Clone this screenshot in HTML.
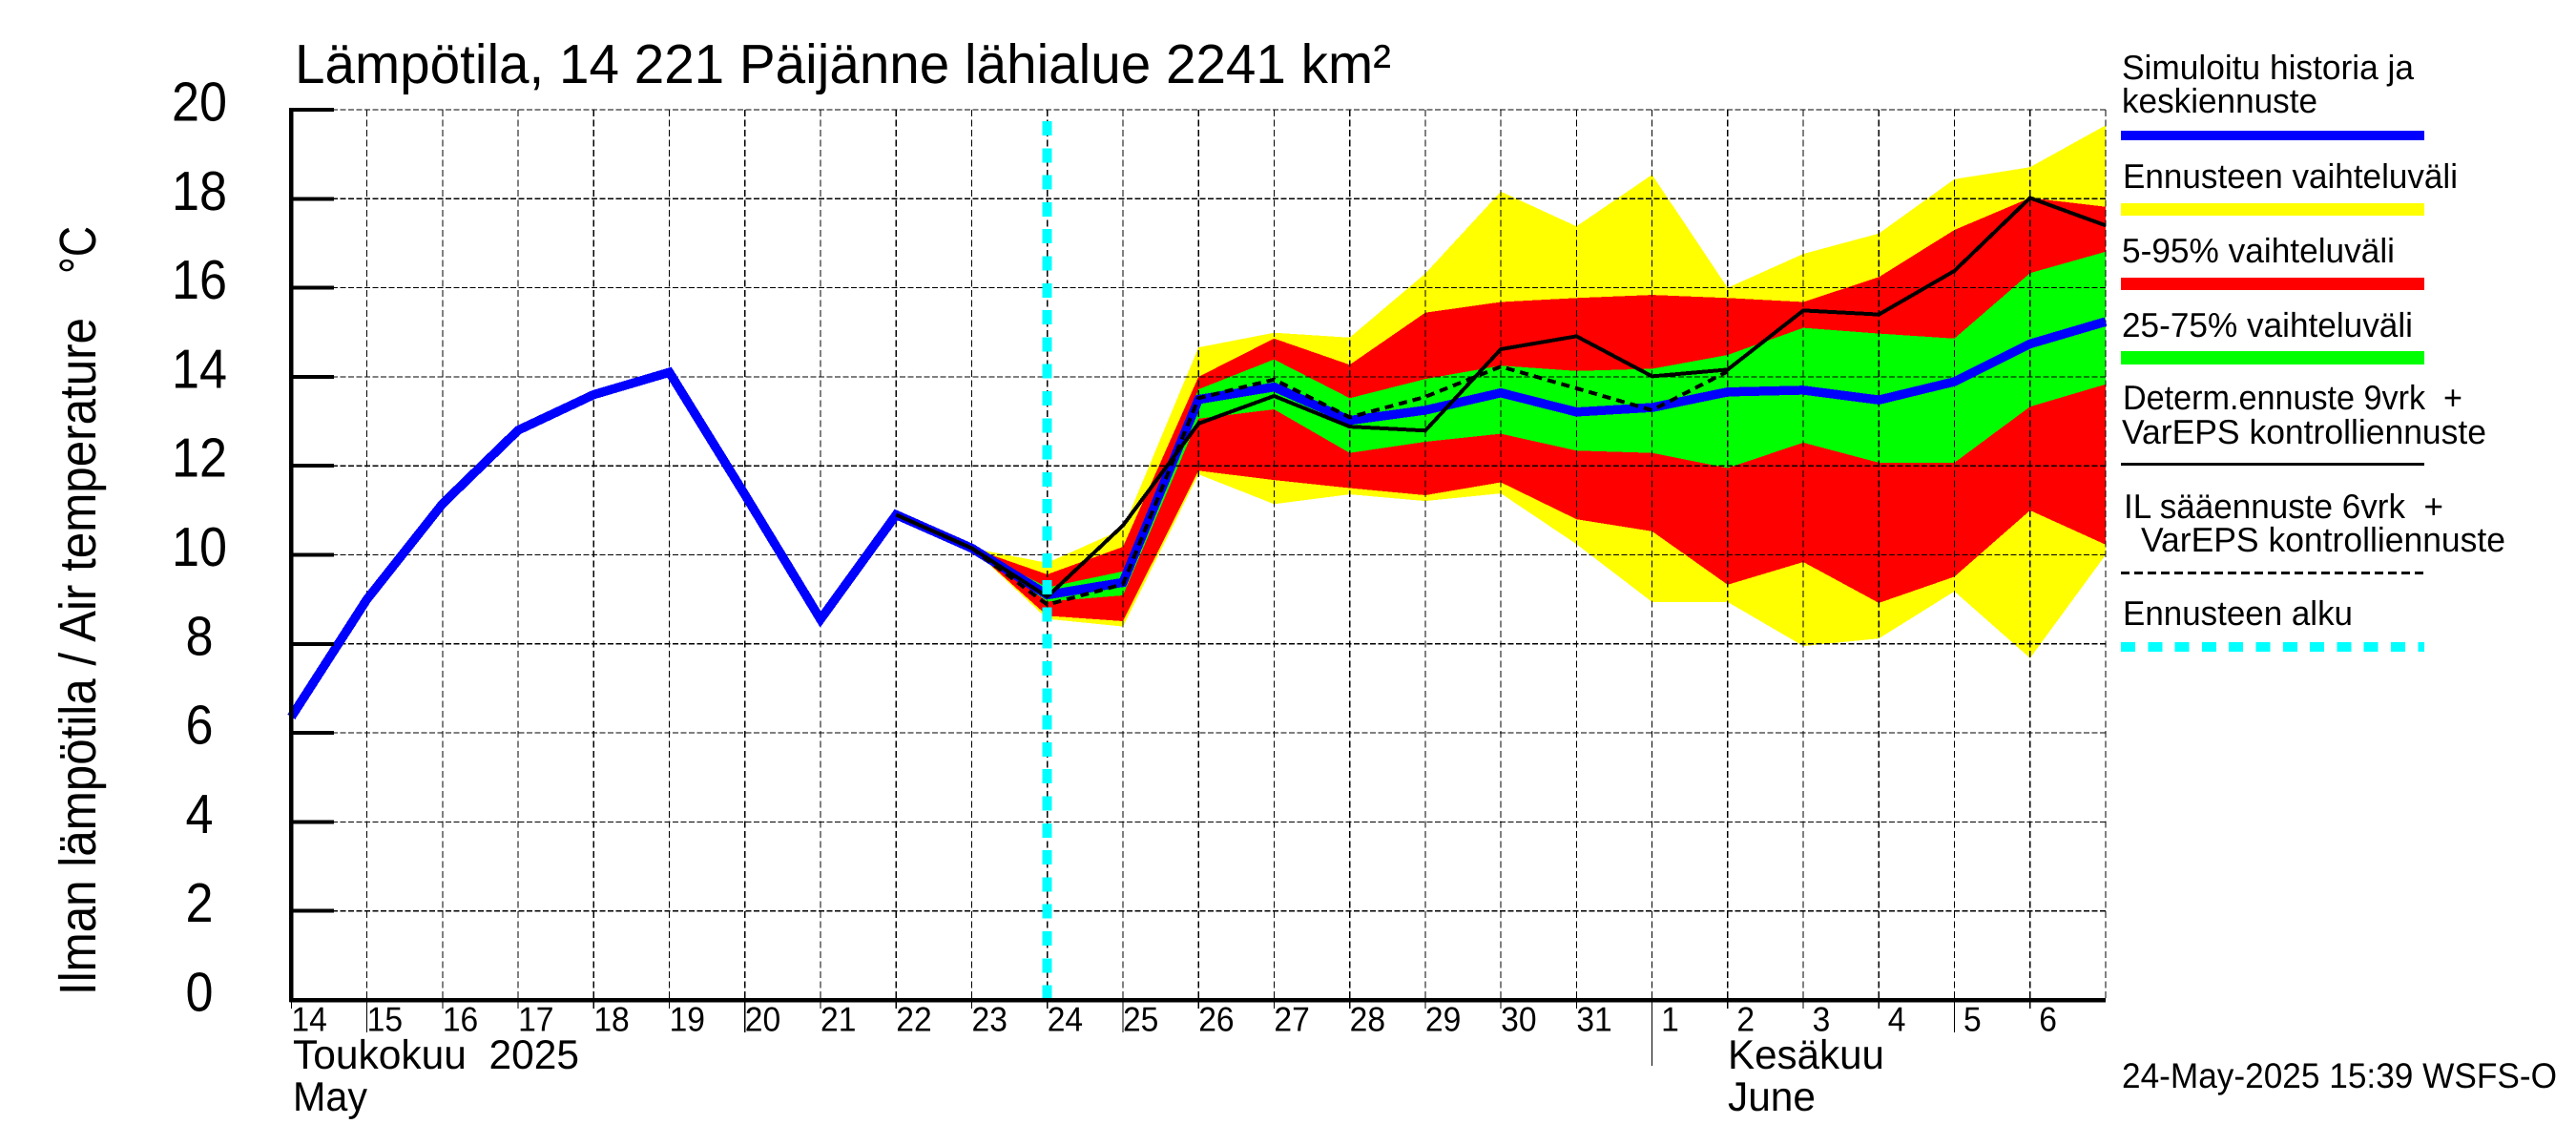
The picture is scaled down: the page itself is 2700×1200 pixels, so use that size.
<!DOCTYPE html>
<html lang="fi">
<head>
<meta charset="utf-8">
<title>Lämpötila, 14 221 Päijänne lähialue</title>
<style>
html,body{margin:0;padding:0;background:#fff;}
svg{display:block;}
text{font-family:"Liberation Sans",sans-serif;fill:#000;text-rendering:geometricPrecision;white-space:pre;}
</style>
</head>
<body>
<svg id="chart" xmlns="http://www.w3.org/2000/svg" width="2700" height="1200" viewBox="0 0 2700 1200">
  <rect x="0" y="0" width="2700" height="1200" fill="#fff"/>
  <g id="bands"></g>
  <g id="grid"></g>
  <g id="series"></g>
  <g id="axes"></g>

  <text x="309" y="87" font-size="58" textLength="1149" lengthAdjust="spacingAndGlyphs">Lämpötila, 14 221 Päijänne lähialue 2241 km²</text>
  <text transform="translate(100,1043) rotate(-90)" font-size="54" textLength="710" lengthAdjust="spacingAndGlyphs">Ilman lämpötila / Air temperature</text>
  <text transform="translate(100,287) rotate(-90)" font-size="54" textLength="50" lengthAdjust="spacingAndGlyphs">°C</text>

  <text x="307" y="1120" font-size="43" textLength="300" lengthAdjust="spacingAndGlyphs">Toukokuu  2025</text>
  <text x="307" y="1164" font-size="43" textLength="78" lengthAdjust="spacingAndGlyphs">May</text>
  <text x="1811" y="1120" font-size="43" textLength="164" lengthAdjust="spacingAndGlyphs">Kesäkuu</text>
  <text x="1811" y="1164" font-size="43" textLength="92" lengthAdjust="spacingAndGlyphs">June</text>
  <text x="2224" y="1140" font-size="37" textLength="456" lengthAdjust="spacingAndGlyphs">24-May-2025 15:39 WSFS-O</text>

  <g shape-rendering="crispEdges">
    <text x="2224" y="83" font-size="36" textLength="306" lengthAdjust="spacingAndGlyphs">Simuloitu historia ja</text>
    <text x="2224" y="118" font-size="36" textLength="205" lengthAdjust="spacingAndGlyphs">keskiennuste</text>
    <rect x="2223" y="137" width="318" height="10" fill="#0000ff"/>
    <text x="2225" y="197" font-size="36" textLength="351" lengthAdjust="spacingAndGlyphs">Ennusteen vaihteluväli</text>
    <rect x="2223" y="213" width="318" height="13" fill="#ffff00"/>
    <text x="2224" y="275" font-size="36" textLength="286" lengthAdjust="spacingAndGlyphs">5-95% vaihteluväli</text>
    <rect x="2223" y="291" width="318" height="13" fill="#ff0000"/>
    <text x="2224" y="353" font-size="36" textLength="305" lengthAdjust="spacingAndGlyphs">25-75% vaihteluväli</text>
    <rect x="2223" y="368" width="318" height="14" fill="#00ff00"/>
    <text x="2225" y="429" font-size="36" textLength="356" lengthAdjust="spacingAndGlyphs">Determ.ennuste 9vrk  +</text>
    <text x="2224" y="465" font-size="36" textLength="382" lengthAdjust="spacingAndGlyphs">VarEPS kontrolliennuste</text>
    <rect x="2223" y="485" width="318" height="3" fill="#000"/>
    <text x="2226" y="543" font-size="36" textLength="335" lengthAdjust="spacingAndGlyphs">IL sääennuste 6vrk  +</text>
    <text x="2244" y="578" font-size="36" textLength="382" lengthAdjust="spacingAndGlyphs">VarEPS kontrolliennuste</text>
    <line x1="2223" y1="600.5" x2="2541" y2="600.5" stroke="#000" stroke-width="3" stroke-dasharray="9 5"/>
    <text x="2225" y="655" font-size="36" textLength="241" lengthAdjust="spacingAndGlyphs">Ennusteen alku</text>
    <line x1="2223" y1="678" x2="2541" y2="678" stroke="#00ffff" stroke-width="10" stroke-dasharray="15 13.3"/>
  </g>
</svg>
<script>
// Chart data. Index 0 of the day arrays is 14 May.
const dayLabels = [14,15,16,17,18,19,20,21,22,23,24,25,26,27,28,29,30,31,1,2,3,4,5,6];
const yTickValues = [0,2,4,6,8,10,12,14,16,18,20];
const longTickDays = [1,6,11,22];
const monthTickDays = [18];
const forecastStartDay = 10;

// Simulated history + mean forecast, day index 0..24
const meanValues = [6.36,9.0,11.15,12.8,13.6,14.1,11.35,8.55,10.9,10.15,9.1,9.38,13.49,13.77,13.02,13.25,13.64,13.21,13.31,13.66,13.7,13.48,13.89,14.74,15.24];

// Bands, day index 9..24
const bandStartDay = 9;
const fullRangeUpper = [10.15,9.82,10.58,14.66,14.99,14.88,16.32,18.16,17.38,18.54,16.0,16.76,17.22,18.44,18.71,19.65];
const fullRangeLower = [10.15,8.56,8.39,11.81,11.14,11.36,11.21,11.38,10.24,8.94,8.94,7.95,8.12,9.18,7.68,10.0];
const p95Values = [10.15,9.56,10.18,14.0,14.86,14.27,15.44,15.68,15.77,15.84,15.77,15.68,16.24,17.3,18.02,17.82];
const p5Values = [10.15,8.63,8.51,11.89,11.68,11.5,11.34,11.63,10.8,10.53,9.33,9.84,8.92,9.51,11.0,10.23];
const p75Values = [10.15,9.27,9.63,13.72,14.39,13.52,13.95,14.25,14.13,14.18,14.49,15.1,14.97,14.86,16.33,16.81];
const p25Values = [10.15,8.95,9.09,13.06,13.27,12.29,12.54,12.72,12.34,12.29,11.95,12.52,12.07,12.07,13.33,13.83];

// Deterministic forecast, day index 8..24
const determStartDay = 8;
const determValues = [10.9,10.15,9.06,10.66,12.95,13.57,12.88,12.79,14.62,14.91,14.01,14.16,15.49,15.4,16.38,18.02,17.4];

// IL weather forecast, day index 9..19
const ilStartDay = 9;
const ilValues = [10.15,8.88,9.34,13.52,13.94,13.09,13.55,14.23,13.74,13.25,14.12];

const SVG_NS = 'http://www.w3.org/2000/svg';
const plotLeft = 305.4, plotRight = 2207, plotTop = 115, plotBottom = 1048;
const xMaxDay = 24, yMax = 20;
function xScale(day){ return plotLeft + day * (plotRight - plotLeft) / xMaxDay; }
function yScale(v){ return plotBottom - v * (plotBottom - plotTop) / yMax; }
function make(tag, attrs, parent){
  const el = document.createElementNS(SVG_NS, tag);
  for (const k in attrs) el.setAttribute(k, attrs[k]);
  parent.appendChild(el);
  return el;
}
function seriesPoints(values, startDay){
  return values.map(function(v, i){ return xScale(startDay + i).toFixed(1) + ',' + yScale(v).toFixed(1); });
}
function bandPoints(upper, lower, startDay){
  return seriesPoints(upper, startDay).concat(seriesPoints(lower, startDay).reverse()).join(' ');
}

const bandsG = document.getElementById('bands');
const gridG = document.getElementById('grid');
const seriesG = document.getElementById('series');
const axesG = document.getElementById('axes');

// Bands
const bandYellow = make('polygon', {points: bandPoints(fullRangeUpper, fullRangeLower, bandStartDay), fill: '#ffff00', 'shape-rendering': 'crispEdges'}, bandsG);


const bandRed = make('polygon', {points: bandPoints(p95Values, p5Values, bandStartDay), fill: '#ff0000', 'shape-rendering': 'crispEdges'}, bandsG);


const bandGreen = make('polygon', {points: bandPoints(p75Values, p25Values, bandStartDay), fill: '#00ff00', 'shape-rendering': 'crispEdges'}, bandsG);



// Grid
yTickValues.forEach(function(v){
  if (v === 0) return;
  const g = make('line', {x1: plotLeft, x2: plotRight, y1: yScale(v), y2: yScale(v), stroke: '#000', 'stroke-width': 1.2, 'stroke-dasharray': '6 2.5', 'shape-rendering': 'crispEdges'}, gridG);
  
  
});
for (let d = 1; d <= xMaxDay; d++) {
  const g = make('line', {x1: xScale(d), x2: xScale(d), y1: plotTop, y2: plotBottom, stroke: '#000', 'stroke-width': 1.2, 'stroke-dasharray': '7 3.5', 'shape-rendering': 'crispEdges'}, gridG);
  
  
}

// Series
const lineBlue = make('polyline', {points: seriesPoints(meanValues, 0).join(' '), fill: 'none', stroke: '#0000ff', 'stroke-width': 9.5, 'stroke-linejoin': 'miter', 'stroke-miterlimit': 6, 'shape-rendering': 'crispEdges'}, seriesG);


const lineBlack = make('polyline', {points: seriesPoints(determValues, determStartDay).join(' '), fill: 'none', stroke: '#000', 'stroke-width': 4, 'shape-rendering': 'crispEdges'}, seriesG);


const lineDashed = make('polyline', {points: seriesPoints(ilValues, ilStartDay).join(' '), fill: 'none', stroke: '#000', 'stroke-width': 4, 'stroke-dasharray': '9 6', 'shape-rendering': 'crispEdges'}, seriesG);


const startLine = make('line', {x1: xScale(forecastStartDay), x2: xScale(forecastStartDay), y1: 127, y2: plotBottom, stroke: '#00ffff', 'stroke-width': 10, 'stroke-dasharray': '15 13.3', 'shape-rendering': 'crispEdges'}, seriesG);



// Y axis
const yAxis = make('line', {x1: plotLeft, x2: plotLeft, y1: plotTop - 2, y2: plotBottom + 2, stroke: '#000', 'stroke-width': 4.5, 'shape-rendering': 'crispEdges'}, axesG);


yTickValues.forEach(function(v){
  const tick = make('line', {x1: plotLeft, x2: 350, y1: yScale(v), y2: yScale(v), stroke: '#000', 'stroke-width': 4, 'shape-rendering': 'crispEdges'}, axesG);
  
  
  const label = make('text', {x: 209, y: yScale(v) + 11.5, 'font-size': 58, 'text-anchor': 'middle', textLength: String(v).length * 29, lengthAdjust: 'spacingAndGlyphs'}, axesG);
  
  
  label.textContent = String(v);
});

// X axis
const xAxis = make('line', {x1: plotLeft - 2, x2: plotRight, y1: plotBottom, y2: plotBottom, stroke: '#000', 'stroke-width': 4.5, 'shape-rendering': 'crispEdges'}, axesG);


dayLabels.forEach(function(label, d){
  let tickEnd = 1057;
  if (longTickDays.indexOf(d) >= 0) tickEnd = 1082;
  if (monthTickDays.indexOf(d) >= 0) tickEnd = 1117;
  const tick = make('line', {x1: xScale(d), x2: xScale(d), y1: plotBottom, y2: tickEnd, stroke: '#000', 'stroke-width': 1.2, 'shape-rendering': 'crispEdges'}, axesG);
  
  
  const text = make('text', {x: xScale(d) + (label < 10 ? 9.5 : 0), y: 1080.5, 'font-size': 36, textLength: String(label).length * 18.7, lengthAdjust: 'spacingAndGlyphs'}, axesG);
  
  
  text.textContent = String(label);
});
</script>
</body>
</html>
